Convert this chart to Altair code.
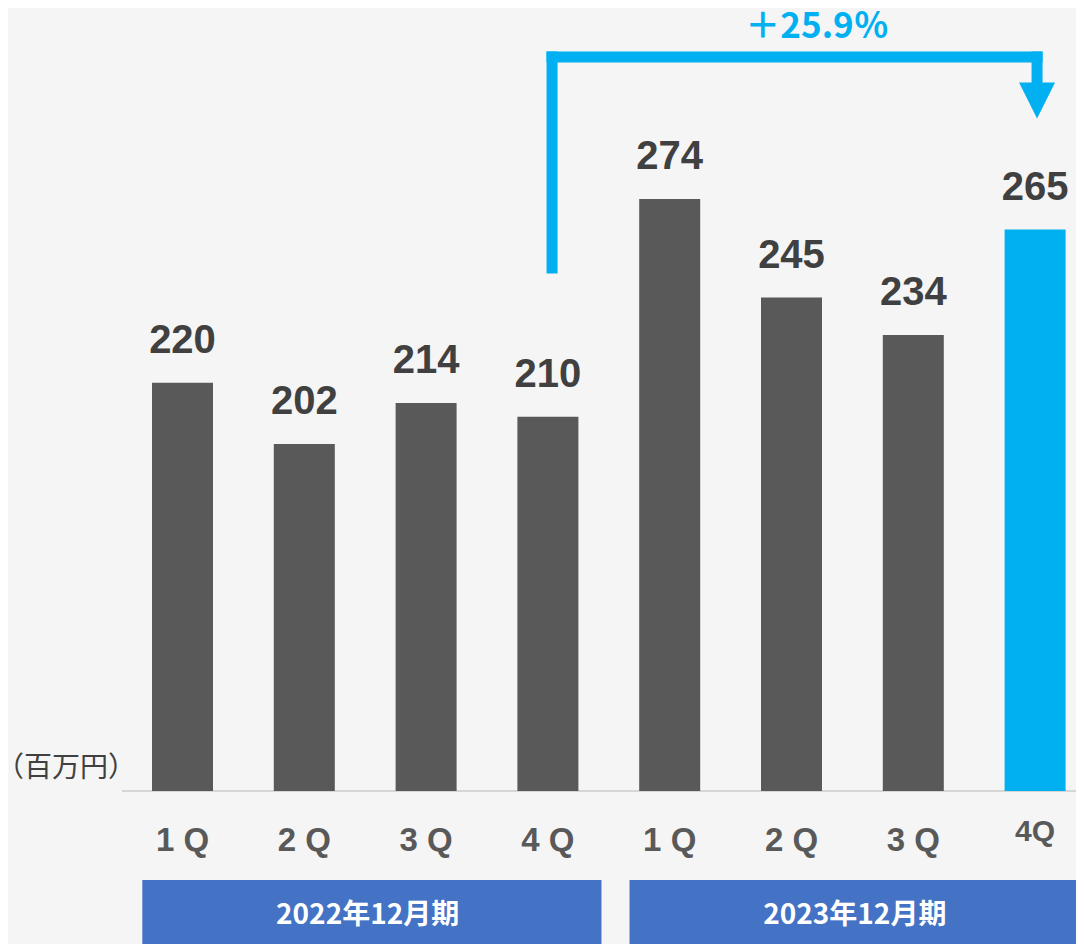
import altair as alt
import pandas as pd

# ---- data ----
quarters = ["1 Q", "2 Q", "3 Q", "4 Q", "1 Q", "2 Q", "3 Q", "4Q"]
values = [220, 202, 214, 210, 274, 245, 234, 265]
periods = ["2022年12月期", "2023年12月期"]
period_first = [0, 4]
period_last = [3, 7]
growth_label = "＋25.9％"
unit_label = "（百万円）"
compare_from, compare_to = 3, 7

# ---- layout (chart coords = page coords - 8) ----
W, H = 1068, 936
STEP = 121.8
C0 = 174.5
BASE_Y = 783
PX_PER_UNIT = 3.403
Y0 = 100

x_dom = [-C0 / STEP, (W - C0) / STEP]
y_dom = [Y0 - (H - BASE_Y) / PX_PER_UNIT, Y0 + BASE_Y / PX_PER_UNIT]
xs = alt.Scale(domain=x_dom, nice=False, zero=False, padding=0)
ys = alt.Scale(domain=y_dom, nice=False, zero=False, padding=0)

GREY = "#595959"
CYAN = "#00b0f0"
BLUE = "#4472c4"
NUM_FONT = "Liberation Sans"
JP_FONT = "Noto Sans CJK JP"

df = pd.DataFrame({"idx": list(range(len(values))), "value": values, "label": quarters,
                   "base": [Y0] * len(values)})
pdf = pd.DataFrame({"period": periods, "first": period_first, "last": period_last})
ax0 = compare_from + 0.034
ax1 = compare_to + 0.016
arrow_df = pd.DataFrame({"a0": [ax0], "a1": [ax1], "base": [Y0],
                         "growth": [growth_label], "unit": [unit_label]})

X = alt.X("idx:Q", scale=xs, axis=None)
Yv = alt.Y("value:Q", scale=ys, axis=None)

baseline = alt.Chart(arrow_df).mark_rule(color="#d6d6d6", strokeWidth=2).encode(
    y=alt.Y("base:Q", scale=ys, axis=None), x=alt.value(114), x2=alt.value(W)
)

bars = alt.Chart(df).mark_bar(size=61).encode(
    x=X,
    y=Yv,
    y2="base:Q",
    color=alt.condition(f"datum.idx == {compare_to}", alt.value(CYAN), alt.value(GREY)),
)

vlabels = alt.Chart(df).mark_text(
    dy=-30, baseline="alphabetic", font=NUM_FONT, fontWeight="bold", fontSize=40, color="#404040"
).encode(x=X, y=Yv, text="value:Q")

xlabels = alt.Chart(df).transform_filter(f"datum.idx != {compare_to}").mark_text(
    baseline="alphabetic", font=NUM_FONT, fontWeight="bold", fontSize=33, color=GREY
).encode(x=X, y=alt.value(843), text="label:N")

xlabel_last = alt.Chart(df).transform_filter(f"datum.idx == {compare_to}").mark_text(
    baseline="alphabetic", font=NUM_FONT, fontWeight="bold", fontSize=30, color=GREY
).encode(x=X, y=alt.value(833), text="label:N")

boxes = alt.Chart(pdf).transform_calculate(
    x0="datum.first - 0.33", x1="datum.last + 0.44"
).mark_rect(color=BLUE).encode(
    x=alt.X("x0:Q", scale=xs, axis=None), x2="x1:Q", y=alt.value(872), y2=alt.value(H)
)

box_text = alt.Chart(pdf).transform_calculate(
    xc="(datum.first + datum.last) / 2 + 0.02"
).mark_text(
    baseline="middle", font=JP_FONT, fontWeight="bold", fontSize=28, color="white"
).encode(x=alt.X("xc:Q", scale=xs, axis=None), y=alt.value(908), text="period:N")

arrow_style = dict(color=CYAN, strokeWidth=11, strokeCap="square")
arr_left = alt.Chart(arrow_df).mark_rule(**arrow_style).encode(
    x=alt.X("a0:Q", scale=xs, axis=None), y=alt.value(260), y2=alt.value(49)
)
arr_top = alt.Chart(arrow_df).mark_rule(**arrow_style).encode(
    x=alt.X("a0:Q", scale=xs, axis=None), x2="a1:Q", y=alt.value(49)
)
arr_right = alt.Chart(arrow_df).mark_rule(**arrow_style).encode(
    x=alt.X("a1:Q", scale=xs, axis=None), y=alt.value(49), y2=alt.value(78)
)
arr_head = alt.Chart(arrow_df).mark_point(
    shape="M-1,-1L1,-1L0,1Z", size=1296, filled=True, color=CYAN, opacity=1, strokeWidth=0
).encode(x=alt.X("a1:Q", scale=xs, axis=None), y=alt.value(92.5))

growth = alt.Chart(arrow_df).mark_text(
    baseline="alphabetic", align="center", font=JP_FONT, fontWeight="bold", fontSize=35, color=CYAN
).encode(x=alt.value(809), y=alt.value(30), text="growth:N")

unit = alt.Chart(arrow_df).mark_text(
    baseline="middle", align="right", font=JP_FONT, fontSize=28, color="#404040"
).encode(x=alt.value(128), y=alt.value(761), text="unit:N")

chart = alt.layer(
    baseline, bars, vlabels, xlabels, xlabel_last, boxes, box_text,
    arr_left, arr_top, arr_right, arr_head, growth, unit
).properties(
    width=W, height=H, autosize=alt.AutoSizeParams(type="none"), padding=0,
    background="#f5f5f5",
).configure_view(strokeWidth=0)

chart.save("out.html", embed_options={"renderer": "svg", "actions": False})
